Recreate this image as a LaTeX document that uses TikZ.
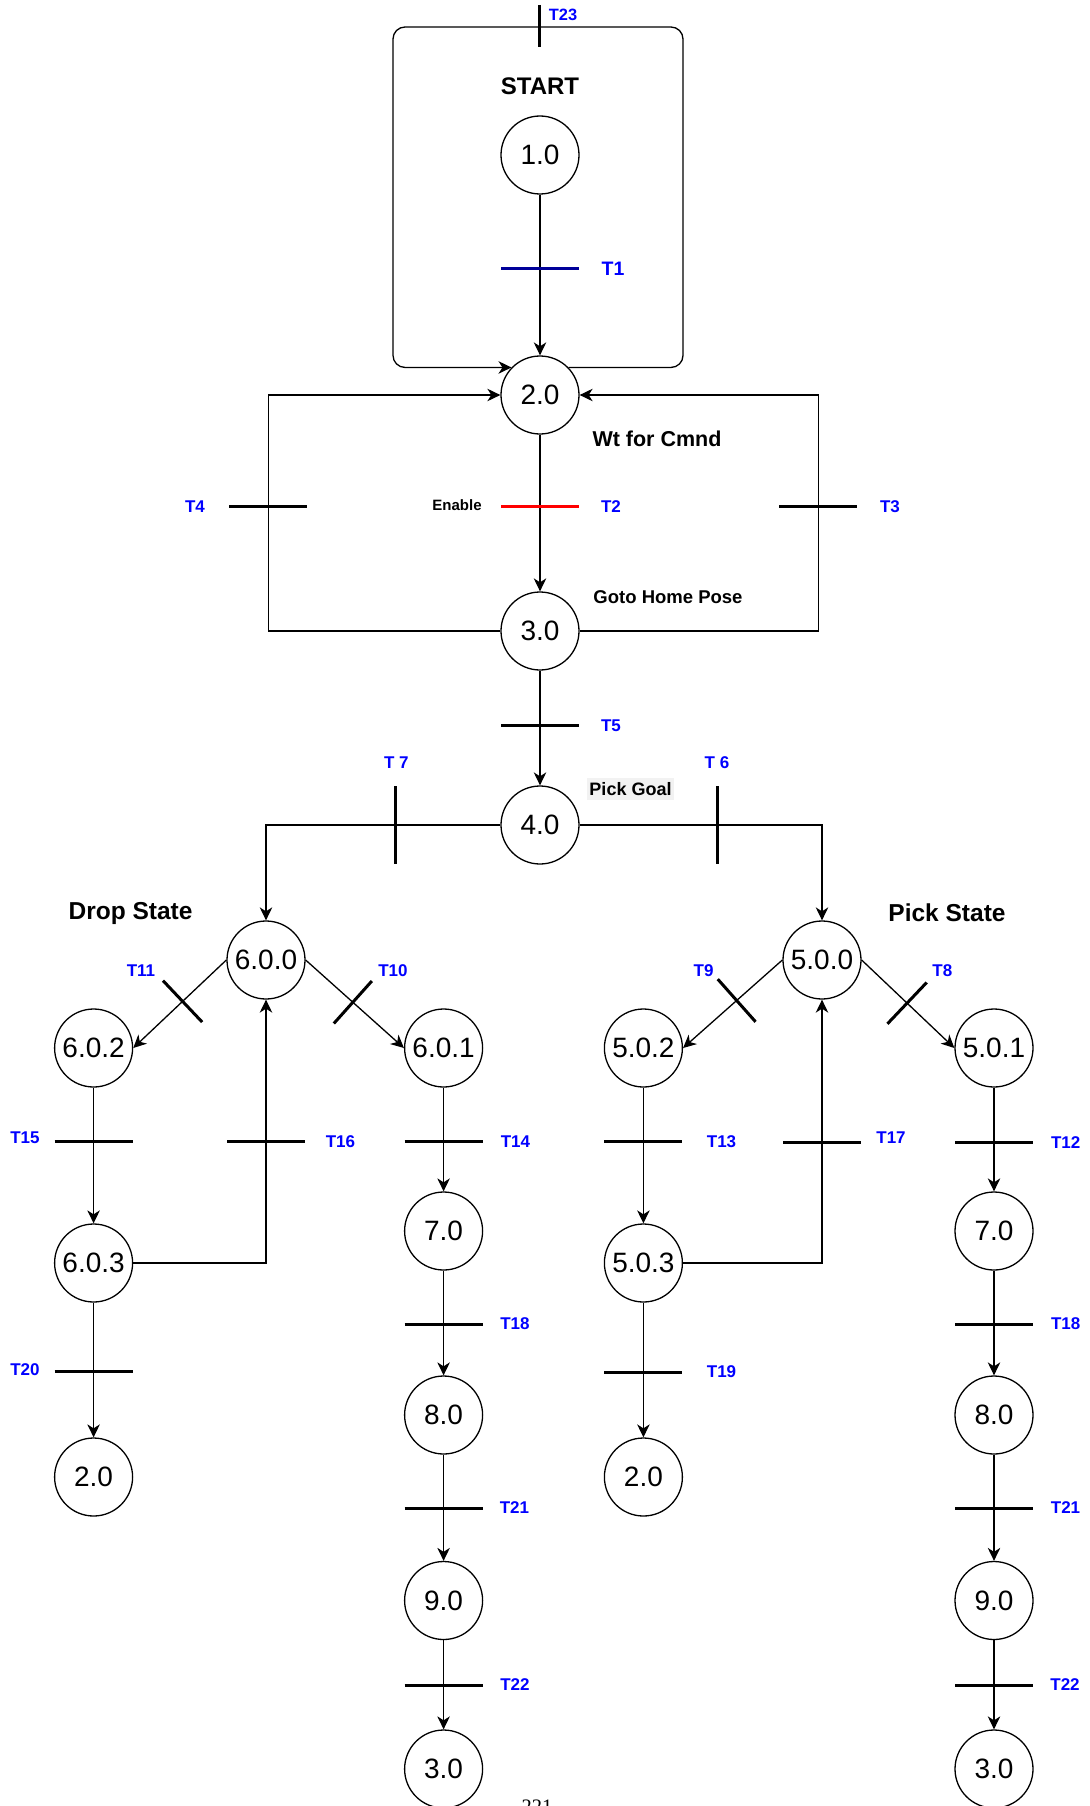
\documentclass[tikz,border=0pt]{standalone}
\usepackage{fontspec}
\setmainfont{Liberation Sans}
\newfontfamily\pnfont{Liberation Serif}
\usetikzlibrary{arrows.meta}
\definecolor{tblue}{RGB}{0,0,255}
\definecolor{tnavy}{RGB}{0,0,153}
\definecolor{tred}{RGB}{255,0,0}
\definecolor{goalbg}{RGB}{242,242,242}
\begin{document}
\begin{tikzpicture}[x=1pt,y=-1pt,
  st/.style={circle, draw, line width=1.3pt, minimum size=78pt, inner sep=0pt, font=\fontsize{28}{30}\selectfont},
  edge/.style={line width=1.3pt, -{Stealth[length=13pt,width=12.5pt,inset=4pt]}},
  tbar/.style={line width=3pt},
  dbar/.style={sloped, rectangle, fill=black, draw=none, inner sep=0pt, outer sep=0pt, minimum width=3pt, minimum height=57pt},
  tl/.style={text=tblue, inner sep=0pt, font=\bfseries\fontsize{17}{20}\selectfont},
  title/.style={inner sep=0pt, font=\bfseries\fontsize{24.5}{28}\selectfont},
  note/.style={inner sep=0pt, font=\bfseries\fontsize{18.5}{22}\selectfont}]
\useasboundingbox (0,0) rectangle (1089,1806);
\fill[white] (0,0) rectangle (1089,1806);

% ---------- states ----------
\node[st] (n1) at (540,155) {1.0};
\node[st] (n2) at (540,395) {2.0};
\node[st] (n3) at (540,631) {3.0};
\node[st] (n4) at (540,825) {4.0};
\node[st] (n600) at (266,960) {6.0.0};
\node[st] (n500) at (822,960) {5.0.0};
\node[st] (n602) at (93.6,1048) {6.0.2};
\node[st] (n601) at (443.6,1048) {6.0.1};
\node[st] (n502) at (643.4,1048) {5.0.2};
\node[st] (n501) at (994,1048) {5.0.1};
\node[st] (n603) at (93.6,1263) {6.0.3};
\node[st] (n503) at (643.4,1263) {5.0.3};
\node[st] (n7L) at (443.6,1231) {7.0};
\node[st] (n7R) at (994,1231) {7.0};
\node[st] (n8L) at (443.6,1415) {8.0};
\node[st] (n8R) at (994,1415) {8.0};
\node[st] (n2L) at (93.6,1477) {2.0};
\node[st] (n2R) at (643.4,1477) {2.0};
\node[st] (n9L) at (443.6,1600.5) {9.0};
\node[st] (n9R) at (994,1600.5) {9.0};
\node[st] (n3L) at (443.6,1769) {3.0};
\node[st] (n3R) at (994,1769) {3.0};

% ---------- helper coordinates ----------
\coordinate (cR) at (683,27);
\coordinate (cL) at (393,27);
\coordinate (cl4) at (268.4,631);
\coordinate (cr3) at (818.4,631);

% ---------- connectors ----------
\draw[edge] (n1) -- (n2);
\draw[edge] (n2) -- (n3);
\draw[edge] (n3) -- (n4);
\draw[edge, rounded corners=12pt] (n2.44) -| (cR) -- (cL) |- (n2.136);
\draw[edge] (n3.west) -- (cl4) |- (n2.west);
\draw[edge] (n3.east) -- (cr3) |- (n2.east);
\draw[edge] (n4.west) -| (n600.north);
\draw[edge] (n4.east) -| (n500.north);
\draw[edge] (n600.west) -- node[dbar, pos=0.47]{} (n602.east);
\draw[edge] (n600.east) -- node[dbar, pos=0.48]{} (n601.west);
\draw[edge] (n500.west) -- node[dbar, pos=0.46]{} (n502.east);
\draw[edge] (n500.east) -- node[dbar, pos=0.49]{} (n501.west);
\draw[edge] (n602) -- (n603);
\draw[edge] (n603.east) -| (n600.south);
\draw[edge] (n603) -- (n2L);
\draw[edge] (n601) -- (n7L);
\draw[edge] (n7L) -- (n8L);
\draw[edge] (n8L) -- (n9L);
\draw[edge] (n9L) -- (n3L);
\draw[edge] (n502) -- (n503);
\draw[edge] (n503.east) -| (n500.south);
\draw[edge] (n503) -- (n2R);
\draw[edge] (n501) -- (n7R);
\draw[edge] (n7R) -- (n8R);
\draw[edge] (n8R) -- (n9R);
\draw[edge] (n9R) -- (n3R);

% ---------- transition bars ----------
\draw[tbar] (539.3,5) -- (539.3,47);
\draw[tbar, tnavy] (501,268.3) -- (579,268.3);
\draw[tbar, tred] (501,506.5) -- (579,506.5);
\draw[tbar] (229.4,506.5) -- (307.4,506.5);
\draw[tbar] (779.4,506.5) -- (857.4,506.5);
\draw[tbar] (501,725) -- (579,725);
\draw[tbar] (395,786) -- (395,864);
\draw[tbar] (717,786) -- (717,864);
\draw[tbar] (54.6,1141) -- (132.6,1141);
\draw[tbar] (227,1141) -- (305,1141);
\draw[tbar] (404.6,1141) -- (482.6,1141);
\draw[tbar] (604.4,1141.5) -- (682.4,1141.5);
\draw[tbar] (783,1142) -- (861,1142);
\draw[tbar] (955,1142.5) -- (1033,1142.5);
\draw[tbar] (404.6,1324) -- (482.6,1324);
\draw[tbar] (955,1324) -- (1033,1324);
\draw[tbar] (54.6,1371.7) -- (132.6,1371.7);
\draw[tbar] (604.4,1372.3) -- (682.4,1372.3);
\draw[tbar] (404.6,1508) -- (482.6,1508);
\draw[tbar] (955,1508) -- (1033,1508);
\draw[tbar] (404.6,1685) -- (482.6,1685);
\draw[tbar] (955,1685) -- (1033,1685);

% ---------- titles and notes ----------
\node[title, font=\bfseries\fontsize{24}{28}\selectfont] (tstart) at (540,86) {START};
\node[note, font=\bfseries\fontsize{21.5}{25}\selectfont] (twt) at (657,439) {Wt for Cmnd};
\node[note] (tgoto) at (668,597) {Goto Home Pose};
\node[inner sep=0pt, font=\bfseries\fontsize{15}{18}\selectfont] (tenable) at (457,505.5) {Enable};
\node[fill=goalbg, inner sep=0pt, minimum width=87pt, minimum height=22pt, font=\bfseries\fontsize{18}{21}\selectfont] (tgoal) at (630.5,789) {Pick Goal};
\node[title] (tdrop) at (130.5,913) {Drop State};
\node[title] (tpick) at (947,913) {Pick State};

% ---------- transition labels ----------
\node[tl, font=\bfseries\fontsize{16.4}{19}\selectfont] (l23) at (563,15) {T23};
\node[tl, font=\bfseries\fontsize{19.5}{22}\selectfont] (l1) at (613,268.5) {T1};
\node[tl] (l2) at (611,506.5) {T2};
\node[tl] (l4) at (195,506.5) {T4};
\node[tl] (l3) at (890,506.5) {T3};
\node[tl] (l5) at (611,726) {T5};
\node[tl] (l7) at (396.4,763) {T 7};
\node[tl] (l6) at (717,763) {T 6};
\node[tl] (l11) at (141,971) {T11};
\node[tl] (l10) at (393,971) {T10};
\node[tl] (l9) at (703.6,971) {T9};
\node[tl] (l8) at (942.4,971) {T8};
\node[tl] (l15) at (25,1138) {T15};
\node[tl] (l16) at (340.4,1141.7) {T16};
\node[tl] (l14) at (515.4,1141.5) {T14};
\node[tl] (l13) at (721.5,1141.7) {T13};
\node[tl] (l17) at (891,1138) {T17};
\node[tl] (l12) at (1065.7,1143) {T12};
\node[tl] (l18a) at (515,1324) {T18};
\node[tl] (l18b) at (1065.7,1324) {T18};
\node[tl] (l20) at (25,1370) {T20};
\node[tl] (l19) at (721.5,1372) {T19};
\node[tl] (l21a) at (514.4,1507.5) {T21};
\node[tl] (l21b) at (1065.5,1507.5) {T21};
\node[tl] (l22a) at (515,1685) {T22};
\node[tl] (l22b) at (1065,1685) {T22};

% ---------- page number (cut by page edge) ----------
\node[anchor=base, inner sep=0pt, font=\pnfont\fontsize{20.5}{24}\selectfont] (pgno) at (537,1813.8) {221};
\end{tikzpicture}
\end{document}
